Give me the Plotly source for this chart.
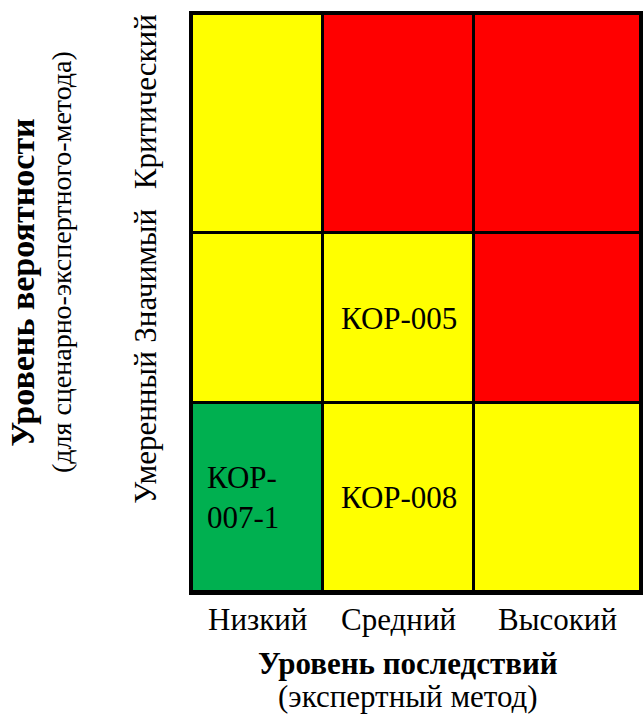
import plotly.graph_objects as go

# ---- data ----
consequence_levels = ["Низкий", "Средний", "Высокий"]          # x categories (left -> right)
probability_levels = ["Умеренный", "Значимый", "Критический"]  # y categories (bottom -> top)
# risk zone per cell: 0 = low (green), 1 = medium (yellow), 2 = high (red); rows bottom -> top
risk_zone = [
    [0, 1, 1],
    [1, 1, 2],
    [1, 2, 2],
]
# risks placed in cells: (row, col) -> label
risk_items = [
    (1, 1, "КОР-005"),
    (0, 1, "КОР-008"),
    (0, 0, "КОР-<br>007-1"),
]
x_title = "Уровень последствий"
x_subtitle = "(экспертный метод)"
y_title = "Уровень вероятности"
y_subtitle = "(для сценарно-экспертного-метода)"

# ---- layout constants (cell sizes in plot units) ----
COL_EDGES = [0, 132, 284, 452]
ROW_EDGES = [0, 189, 359, 578]
X_RANGE = [0, 451]
FONT = "Liberation Serif"
zone_colors = [[0.0, "#00B050"], [0.3333, "#00B050"], [0.3334, "#FFFF00"],
               [0.6666, "#FFFF00"], [0.6667, "#FF0000"], [1.0, "#FF0000"]]

fig = go.Figure(go.Heatmap(
    z=risk_zone, x=COL_EDGES, y=ROW_EDGES,
    colorscale=zone_colors, zmin=0, zmax=2, showscale=False,
    xgap=3, ygap=3, hoverinfo="skip",
))

def cx(i):
    return (COL_EDGES[i] + COL_EDGES[i + 1]) / 2

def cy(j):
    return (ROW_EDGES[j] + ROW_EDGES[j + 1]) / 2

def f(size):
    return dict(family=FONT, size=size, color="black")

ann = []
for r, c, lab in risk_items:
    if "<br>" in lab:
        ann.append(dict(x=COL_EDGES[c], y=cy(r), xref="x", yref="y", text=lab,
                        showarrow=False, xanchor="left", yanchor="middle", align="left",
                        xshift=13, font=f(31)))
    else:
        ann.append(dict(x=cx(c), y=cy(r), xref="x", yref="y", text=lab,
                        showarrow=False, xanchor="center", yanchor="middle", font=f(31)))

# x category labels
for i, lab in enumerate(consequence_levels):
    ann.append(dict(x=cx(i), y=-0.048, xref="x", yref="paper", text=lab, showarrow=False,
                    xanchor="center", yanchor="middle", font=f(31)))
# y category labels (rotated)
ylab_pos = [0.285, 0.548, 0.848]
for lab, yp in zip(probability_levels, ylab_pos):
    ann.append(dict(x=-0.104, y=yp, xref="paper", yref="paper", text=lab, showarrow=False,
                    textangle=-90, xanchor="center", yanchor="middle", font=f(31)))

ann += [
    dict(x=0.483, y=-0.123, xref="paper", yref="paper", text="<b>" + x_title + "</b>",
         showarrow=False, xanchor="center", yanchor="middle", font=f(31)),
    dict(x=0.483, y=-0.181, xref="paper", yref="paper", text=x_subtitle,
         showarrow=False, xanchor="center", yanchor="middle", font=f(31)),
    dict(x=-0.378, y=0.536, xref="paper", yref="paper", text="<b>" + y_title + "</b>",
         showarrow=False, textangle=-90, xanchor="center", yanchor="middle", font=f(34)),
    dict(x=-0.290, y=0.571, xref="paper", yref="paper", text=y_subtitle,
         showarrow=False, textangle=-90, xanchor="center", yanchor="middle", font=f(28)),
]

fig.update_layout(
    width=643, height=719,
    margin=dict(l=192, r=0, t=14, b=127),
    paper_bgcolor="white", plot_bgcolor="black",
    font=dict(family=FONT, color="black"),
    annotations=ann, showlegend=False,
    xaxis=dict(range=X_RANGE, showticklabels=False, showgrid=False, zeroline=False,
               showline=True, linecolor="black", linewidth=3, mirror=True, fixedrange=True),
    yaxis=dict(range=[ROW_EDGES[0], ROW_EDGES[-1]], showticklabels=False, showgrid=False,
               zeroline=False, showline=True, linecolor="black", linewidth=3, mirror=True,
               fixedrange=True),
)

fig.write_html("out.html", config={"displayModeBar": False},
               post_script="document.body.style.margin='0';")
